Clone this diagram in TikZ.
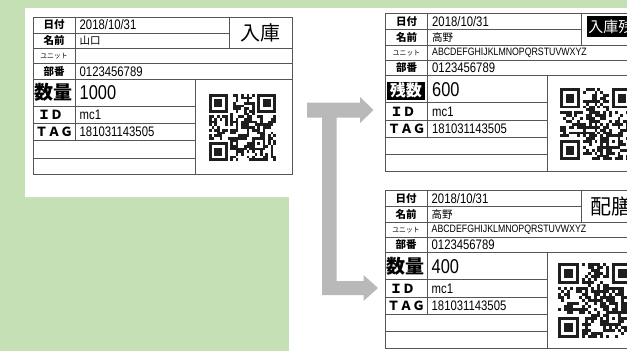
\documentclass[tikz,border=0pt]{standalone}
\usepackage{fontspec}
\setmainfont{Liberation Sans}
\newfontfamily\jp{Noto Sans CJK JP}
\newfontfamily\nar[FakeStretch=0.82]{Liberation Sans}
\definecolor{bggreen}{RGB}{197,224,180}
\definecolor{arrowgray}{RGB}{185,185,185}
\definecolor{lineclr}{RGB}{85,85,85}
\definecolor{qrclr}{RGB}{30,30,30}
\tikzset{
  grid/.style={draw=lineclr, line width=0.85pt},
  hdr/.style={inner sep=0pt, font=\jp\bfseries\fontsize{10.5pt}{11pt}\selectfont},
  bighdr/.style={inner sep=0pt, font=\jp\bfseries\fontsize{19pt}{20pt}\selectfont},
  unitlbl/.style={inner sep=0pt, font=\jp\fontsize{6.8pt}{7pt}\selectfont},
  idlbl/.style={inner sep=0pt, font=\jp\bfseries\fontsize{12.5pt}{13pt}\selectfont},
  val/.style={inner sep=0pt, anchor=west, font=\nar\fontsize{13.8pt}{14pt}\selectfont},
  abc/.style={inner sep=0pt, anchor=west, font=\nar\fontsize{10.7pt}{11pt}\selectfont},
  jval/.style={inner sep=0pt, anchor=west, font=\jp\fontsize{10.5pt}{11pt}\selectfont},
  bigval/.style={inner sep=0pt, anchor=west, font=\nar\fontsize{20pt}{21pt}\selectfont},
  title/.style={inner sep=0pt, font=\jp\fontsize{20pt}{21pt}\selectfont},
  invbox/.style={fill=black, text=white, inner sep=0pt},
}
\newcommand\labelgrid[2]{%
  \begin{scope}[shift={(#1,#2)}]
    \draw[grid] (0,0) rectangle (259,157.7);
    \draw[grid] (42,0) -- (42,123.5);
    \draw[grid] (196,0) -- (196,31.8);
    \draw[grid] (0,16) -- (196,16);
    \draw[grid] (0,31.8) -- (259,31.8);
    \draw[grid] (0,46.7) -- (259,46.7);
    \draw[grid] (0,62.1) -- (259,62.1);
    \draw[grid] (162,62.1) -- (162,157.7);
    \foreach \yy in {89.4,106.9,123.5,141.2} \draw[grid] (0,\yy) -- (162,\yy);
  \end{scope}}
\newcommand\labeltexts[4]{% prefix, x0, y0, name
  \begin{scope}[shift={(#2,#3)}]
    \node[hdr] (#1h1) at (21,8) {日付};
    \node[val] (#1v1) at (46.5,8) {2018/10/31};
    \node[hdr] (#1h2) at (21,23.9) {名前};
    \node[jval] (#1v2) at (46.5,23.9) {#4};
    \node[unitlbl] (#1h3) at (21,39.25) {ユニット};
    \node[hdr] (#1h4) at (21,54.4) {部番};
    \node[val] (#1v4) at (46.5,54.4) {0123456789};
    \node[idlbl] (#1h6) at (17.3,98.15) {ＩＤ};
    \node[val] (#1v6) at (46.5,98.15) {mc1};
    \node[idlbl] (#1h7) at (21,115.2) {ＴＡＧ};
    \node[val] (#1v7) at (46.5,115.2) {181031143505};
  \end{scope}}
\newcommand\qrcode[4]{% x y module seed
  \pgfmathsetseed{#4}%
  \foreach \i in {0,...,24}{%
    \foreach \j in {0,...,24}{%
      \pgfmathrandominteger{\rr}{0}{99}%
      \ifnum\rr<50\relax
        \fill[qrclr] ({#1+\i*#3},{#2+\j*#3}) rectangle ++(#3,#3);%
      \fi
    }%
  }%
  \foreach \fx/\fy in {0/0,17/0,0/17}{%
    \fill[white] ({#1+\fx*#3},{#2+\fy*#3}) rectangle ++({8*#3},{8*#3});%
  }%
  \foreach \fx/\fy in {0/0,18/0,0/18,16/16}{%
    \pgfmathsetmacro\sz{ifthenelse(\fx==16,5,7)}%
    \fill[qrclr] ({#1+\fx*#3},{#2+\fy*#3}) rectangle ++({\sz*#3},{\sz*#3});%
    \fill[white] ({#1+(\fx+1)*#3},{#2+(\fy+1)*#3}) rectangle ++({(\sz-2)*#3},{(\sz-2)*#3});%
    \fill[qrclr] ({#1+(\fx+2)*#3},{#2+(\fy+2)*#3}) rectangle ++({(\sz-4)*#3},{(\sz-4)*#3});%
  }%
}
\begin{document}
\begin{tikzpicture}[x=1pt,y=-1pt]
  \useasboundingbox (0,0) rectangle (627,351);
  \clip (0,0) rectangle (627,351);
  % background
  \fill[bggreen] (0,0) rectangle (627,351);
  \fill[white] (25,8) -- (627,8) -- (627,351) -- (289,351) -- (289,197) -- (25,197) -- cycle;
  % arrow
  \fill[arrowgray] (307,102.5) -- (360,102.5) -- (360,97) -- (373.5,110) -- (360,123) -- (360,117.5)
     -- (336.5,117.5) -- (336.5,281) -- (363.5,281) -- (363.5,275) -- (378,288) -- (363.5,301)
     -- (363.5,295) -- (322,295) -- (322,117.5) -- (307,117.5) -- cycle;
  % label 1
  \labelgrid{33}{17}
  \labeltexts{a}{33}{17}{山口}
  \begin{scope}[shift={(33,17)}]
    \node[bighdr] (ah5) at (20.5,75.75) {数量};
    \node[bigval] (av5) at (46.5,75.75) {1000};
    \node[title] (atitle) at (227.5,15.9) {入庫};
  \end{scope}
  \qrcode{209}{94}{2.68}{11}
  % label 2
  \labelgrid{385.5}{13.5}
  \labeltexts{b}{385.5}{13.5}{高野}
  \begin{scope}[shift={(385.5,13.5)}]
    \node[abc] (bv3) at (46.5,39.25) {ABCDEFGHIJKLMNOPQRSTUVWXYZ};
    \node[invbox, minimum width=38.3pt, minimum height=17.6pt, font=\jp\bfseries\fontsize{16pt}{17pt}\selectfont] (bh5) at (20.35,77.2) {残数};
    \node[bigval] (bv5) at (46.5,75.75) {600};
    \node[invbox, anchor=west, minimum height=21pt, inner xsep=1.5pt, font=\jp\fontsize{15pt}{16pt}\selectfont] (btitle) at (201.2,13.2) {入庫残};
  \end{scope}
  \qrcode{560}{88.3}{2.88}{23}
  % label 3
  \labelgrid{385}{190.5}
  \labeltexts{c}{385}{190.5}{高野}
  \begin{scope}[shift={(385,190.5)}]
    \node[abc] (cv3) at (46.5,39.25) {ABCDEFGHIJKLMNOPQRSTUVWXYZ};
    \node[bighdr] (ch5) at (20.5,75.75) {数量};
    \node[bigval] (cv5) at (46.5,75.75) {400};
    \node[title, anchor=west, font=\jp\fontsize{21pt}{22pt}\selectfont] (ctitle) at (205,15.9) {配膳};
  \end{scope}
  \qrcode{558.3}{263}{3.0}{37}
\end{tikzpicture}
\end{document}
